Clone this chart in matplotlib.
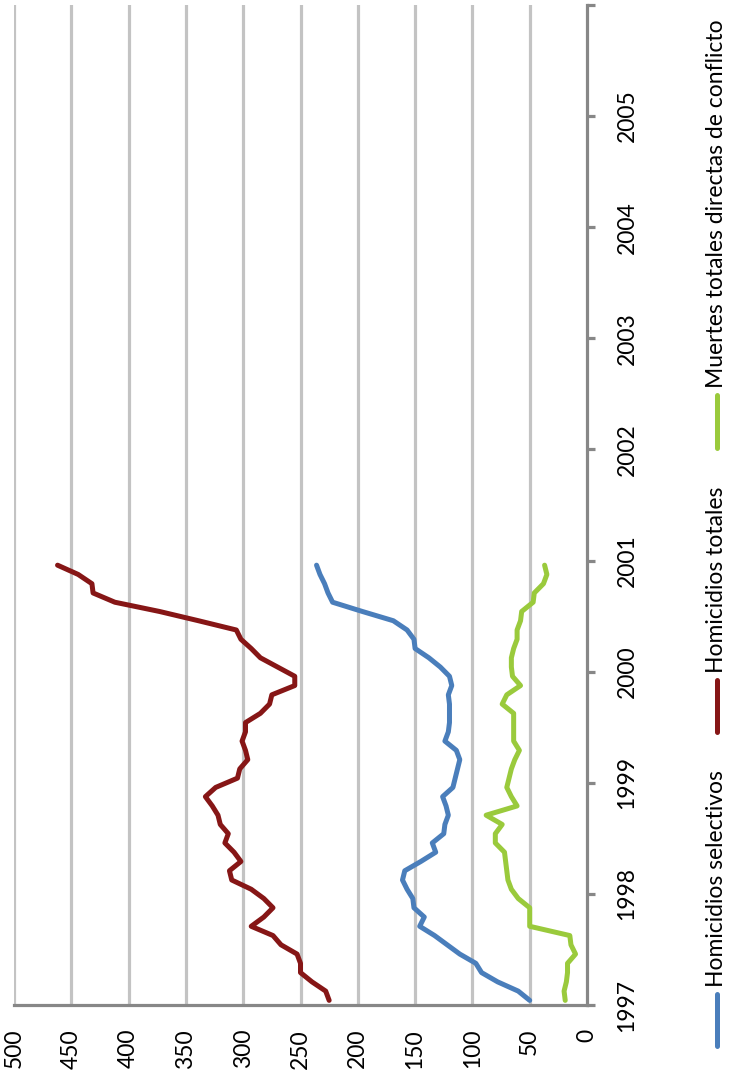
import numpy as np
import matplotlib.pyplot as plt
from matplotlib.lines import Line2D

# Series mensuales, enero 1997 a diciembre 2000
meses = np.arange(48)

selectivos = [50, 60, 78, 92, 97, 111, 122, 133, 146, 142, 151, 152,
              157, 161, 159, 145, 132, 135, 125, 124, 121, 123, 126, 117,
              115, 113, 111, 114, 124, 121, 120, 120, 120, 121, 118, 120,
              128, 138, 150, 151, 157, 169, 196, 222, 226, 229, 233, 236]

totales = [225, 228, 240, 250, 250, 253, 267, 274, 293, 282, 274, 282,
           293, 310, 312, 302, 308, 316, 313, 320, 322, 327, 333, 324,
           305, 303, 296, 298, 301, 298, 298, 285, 277, 275, 255, 255,
           270, 285, 293, 302, 306, 339, 373, 412, 431, 432, 444, 462]

conflicto = [19, 20, 18, 17, 17, 10, 14, 15, 50, 50, 50, 60,
             66, 69, 70, 71, 72, 80, 80, 74, 88, 61, 66, 70,
             68, 66, 63, 59, 64, 64, 64, 64, 74, 70, 58, 65,
             66, 66, 64, 61, 61, 58, 57, 47, 46, 38, 35, 37]

anios = np.arange(1997, 2007)
valores = np.arange(0, 501, 50)

etiquetas = ['Homicidios selectivos', 'Homicidios totales',
             'Muertes totales directas de conflicto']
colores = ['#4a7ebb', '#861616', '#9aca3c']

# fecha de cada punto a mitad de mes
t = 1997 + (meses + 0.5) / 12

plt.rcParams['font.family'] = ['Lato', 'DejaVu Sans']
fs = 16.5

fig = plt.figure(figsize=(7.30, 10.74), dpi=100)
ax = fig.add_axes([14/730, 69/1074, 573/730, 1000/1074])

# grafico girado: valores en horizontal (invertidos), tiempo en vertical
for serie, col in zip([selectivos, totales, conflicto], colores):
    ax.plot(serie, t, color=col, lw=3.6, solid_joinstyle='round',
            solid_capstyle='round', zorder=3)

ax.set_xlim(500, 0)
ax.set_ylim(1997, 2006)

for v in valores[1:]:
    ax.axvline(v, color='#c3c3c3', lw=2.3, zorder=1)

for s in ['top', 'left']:
    ax.spines[s].set_visible(False)
for s in ['right', 'bottom']:
    ax.spines[s].set_color('#878787')
    ax.spines[s].set_linewidth(2.3)

ax.set_xticks(valores)
ax.set_xticklabels([])
ax.tick_params(axis='x', length=0)

ax.yaxis.tick_right()
ax.set_yticks(anios)
ax.set_yticklabels([])
ax.tick_params(axis='y', length=6, width=2.3, color='#878787')

# etiquetas de los ejes, rotadas
for v in valores:
    ax.text(v, -0.024, str(v), transform=ax.get_xaxis_transform(),
            rotation=90, ha='center', va='top', fontsize=fs)

fig.canvas.draw()
for a in anios[:-1]:
    y_px = ax.transData.transform((0, a))[1]
    fig.text(627/730, y_px / fig.bbox.height, str(a), rotation=90,
             ha='center', va='center', fontsize=fs)

# leyenda manual
ley_x = 716.5/730
marcas = [(994, 1046), (680, 732), (395, 448)]
for (y0, y1), col, txt in zip(marcas, colores, etiquetas):
    fig.add_artist(Line2D([ley_x, ley_x], [1 - y1/1074, 1 - y0/1074],
                          transform=fig.transFigure, color=col, lw=3.6,
                          solid_capstyle='round'))
    fig.text(ley_x, 1 - (y0 - 7)/1074, txt, rotation=90, ha='center',
             va='bottom', fontsize=fs)

fig.savefig('out.png', dpi=100)
